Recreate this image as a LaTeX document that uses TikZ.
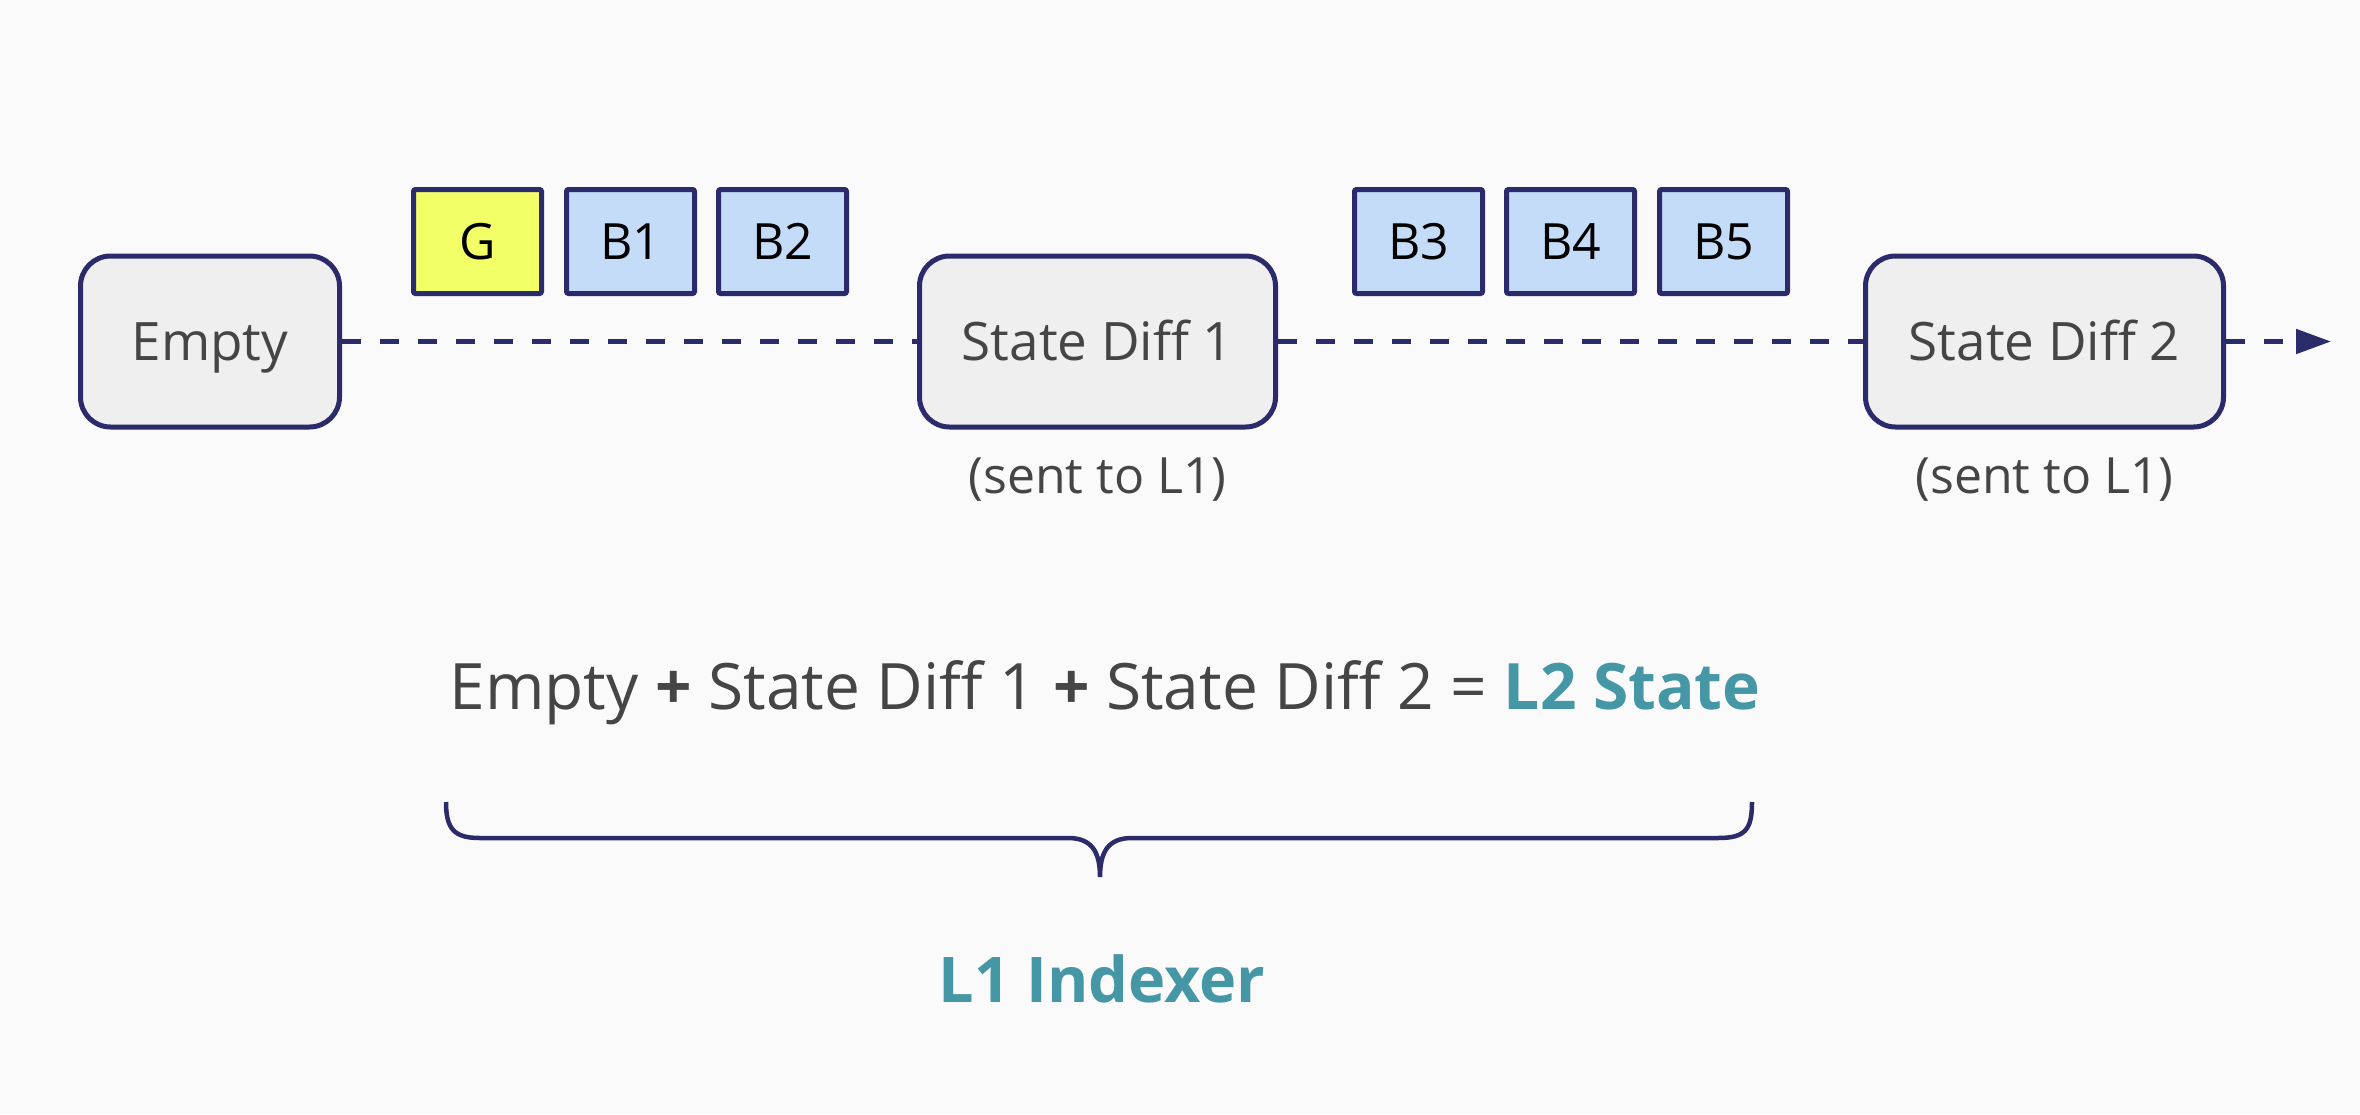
\documentclass[tikz,border=0pt]{standalone}
\usepackage{fontspec}
\setmainfont{Open Sans}
\usetikzlibrary{arrows.meta}
\definecolor{navy}{HTML}{2B2A6B}
\definecolor{teal2}{HTML}{4597A6}
\definecolor{greytxt}{HTML}{454545}
\definecolor{boxfill}{HTML}{EFEFEF}
\definecolor{bg}{HTML}{FAFAFA}
\definecolor{yel}{HTML}{F2FF66}
\definecolor{blu}{HTML}{C5DCF8}
\tikzset{
  statebox/.style={draw=navy, line width=5pt, fill=boxfill, rounded corners=30pt,
    minimum height=171pt, text=greytxt, font=\fontsize{53}{60}\selectfont,
    text height=38pt, text depth=0pt, inner sep=0pt},
  blockbox/.style={draw=navy, line width=5pt, rounded corners=2pt,
    minimum width=128pt, minimum height=104pt, text=black,
    font=\fontsize{50}{56}\selectfont, text height=36pt, text depth=0pt, inner sep=0pt},
  dashline/.style={draw=navy, line width=5pt, dash pattern=on 19pt off 19pt},
  note/.style={text=greytxt, font=\fontsize{50}{56}\selectfont, inner sep=0pt},
}
\begin{document}
\begin{tikzpicture}[x=1pt,y=-1pt]
\fill[bg] (0,0) rectangle (2360,1114);
\useasboundingbox (0,0) rectangle (2360,1114);
% state boxes
\node[statebox, minimum width=259pt] (empty) at (210,341.5) {Empty};
\node[statebox, minimum width=356pt] (sd1) at (1097.5,341.5) {State Diff 1};
\node[statebox, minimum width=358pt] (sd2) at (2044.5,341.5) {State Diff 2};
\coordinate (end) at (2331,341.5);
% blocks
\node[blockbox, fill=yel] (g) at (477.5,241.5) {G};
\node[blockbox, fill=blu] (b1) at (630.5,241.5) {B1};
\node[blockbox, fill=blu] (b2) at (782.5,241.5) {B2};
\node[blockbox, fill=blu] (b3) at (1418.5,241.5) {B3};
\node[blockbox, fill=blu] (b4) at (1570.5,241.5) {B4};
\node[blockbox, fill=blu] (b5) at (1723.5,241.5) {B5};
% connectors
\draw[dashline] (empty.east) -- (sd1.west);
\draw[dashline] (sd1.east) -- (sd2.west);
\draw[dashline, -{Triangle[length=35pt,width=24pt]}] (sd2.east) -- (end);
% notes
\node[note, anchor=base] (sent1) at (1097.5,493) {(sent to L1)};
\node[note, anchor=base] (sent2) at (2044.5,493) {(sent to L1)};
% equation
\node[anchor=base, inner sep=0pt, text=greytxt, font=\fontsize{64}{72}\selectfont] (eq) at (1105,709)
  {Empty \textbf{+} State Diff 1 \textbf{+} State Diff 2 = \textcolor{teal2}{\textbf{L2 State}}};
% brace
\draw[navy, line width=4.5pt] (446,802) .. controls (446,830) and (455,838) .. (480,838)
  -- (1068,838) .. controls (1092,838) and (1100,852) .. (1100,877)
  .. controls (1100,852) and (1108,838) .. (1132,838)
  -- (1718,838) .. controls (1745,838) and (1752,830) .. (1752,802);
\node[anchor=base, inner sep=0pt, text=teal2, font=\bfseries\fontsize{63}{70}\selectfont] (idx) at (1102,1002) {L1 Indexer};
\end{tikzpicture}
\end{document}
